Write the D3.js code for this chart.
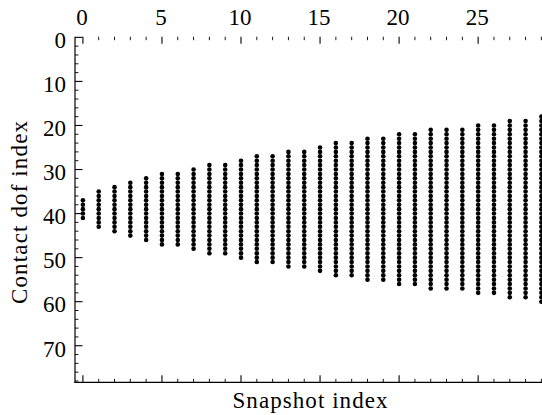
<!DOCTYPE html>
<html><head><meta charset="utf-8">
<script src="https://cdn.jsdelivr.net/npm/d3@7"></script>
<style>
body{margin:0;background:#fff}svg{display:block}
text{font-family:"Liberation Serif","DejaVu Serif",serif;font-size:23px;fill:#000}
</style>
</head><body>
<svg id="c" width="542" height="415"></svg>
<script>
// Data: each snapshot has a contiguous range of contact dof indices
const snapshots = [0,1,2,3,4,5,6,7,8,9,10,11,12,13,14,15,16,17,18,19,20,21,22,23,24,25,26,27,28,29];
const rowStart = [37,35,34,33,32,31,31,30,29,29,28,27,27,26,26,25,24,24,23,23,22,22,21,21,21,20,20,19,19,18];
const rowEnd   = [41,43,44,45,46,47,47,48,49,49,50,51,51,52,52,53,54,54,55,55,56,56,57,57,57,58,58,59,59,60];
const xTickLabels = [0,5,10,15,20,25];
const yTickLabels = [0,10,20,30,40,50,60,70];
const xLabel = "Snapshot index";
const yLabel = "Contact dof index";

const svg = d3.select("#c");
const pL = 75, pR = 549.3, pT = 36.7, pB = 382.3;
const x = d3.scaleLinear().domain([-0.5, 29.5]).range([pL, pR]);
const y = d3.scaleLinear().domain([-0.15, 78.3]).range([pT, pB]);

// points
const pts = [];
snapshots.forEach((s, i) => {
  d3.range(rowStart[i], rowEnd[i] + 1).forEach(r => pts.push({s, r}));
});
svg.append("g").selectAll("circle").data(pts).join("circle")
  .attr("cx", d => x(d.s)).attr("cy", d => y(d.r)).attr("r", 2.3).attr("fill", "#000");

// minor/major ticks
const xMinor = d3.range(0, 30);
const yMinor = d3.range(0, 79, 2);
const g = svg.append("g").attr("stroke", "#000");
// top ticks (pointing down)
g.append("g").selectAll("line").data(xMinor).join("line")
  .attr("x1", d => x(d)).attr("x2", d => x(d))
  .attr("y1", pT).attr("y2", d => pT + (d % 5 === 0 ? 7 : 3.5))
  .attr("stroke-width", d => d % 5 === 0 ? 1.1 : 0.9);
// bottom ticks (pointing up)
g.append("g").selectAll("line").data(xMinor).join("line")
  .attr("x1", d => x(d)).attr("x2", d => x(d))
  .attr("y1", pB).attr("y2", d => pB - (d % 5 === 0 ? 7 : 3.5))
  .attr("stroke-width", d => d % 5 === 0 ? 1.1 : 0.9);
// left ticks (pointing right)
g.append("g").selectAll("line").data(yMinor).join("line")
  .attr("y1", d => y(d)).attr("y2", d => y(d))
  .attr("x1", pL).attr("x2", d => pL + (d % 10 === 0 ? 7.5 : 3.5))
  .attr("stroke-width", d => d % 10 === 0 ? 1.1 : 0.9);

// spines: left and bottom
svg.append("line").attr("x1", pL).attr("x2", pL).attr("y1", pT).attr("y2", pB + 0.6)
  .attr("stroke", "#000").attr("stroke-width", 1.2);
svg.append("line").attr("x1", pL - 0.6).attr("x2", 542).attr("y1", pB).attr("y2", pB)
  .attr("stroke", "#000").attr("stroke-width", 1.2);

// tick labels
svg.append("g").selectAll("text").data(xTickLabels).join("text")
  .attr("x", d => x(d) - 1).attr("y", 25)
  .attr("text-anchor", "middle")
  .text(d => d);
svg.append("g").selectAll("text").data(yTickLabels).join("text")
  .attr("x", 66).attr("y", d => y(d) + 10.8)
  .attr("text-anchor", "end")
  .text(d => d);

// axis labels
svg.append("text").attr("x", 310).attr("y", 408)
  .attr("text-anchor", "middle")
  .attr("textLength", 155).attr("lengthAdjust", "spacing")
  .text(xLabel);
svg.append("text").attr("transform", "translate(27," + ((pT + pB) / 2 + 3) + ") rotate(-90)")
  .attr("text-anchor", "middle")
  .attr("textLength", 183).attr("lengthAdjust", "spacing")
  .text(yLabel);
</script>
</body></html>
